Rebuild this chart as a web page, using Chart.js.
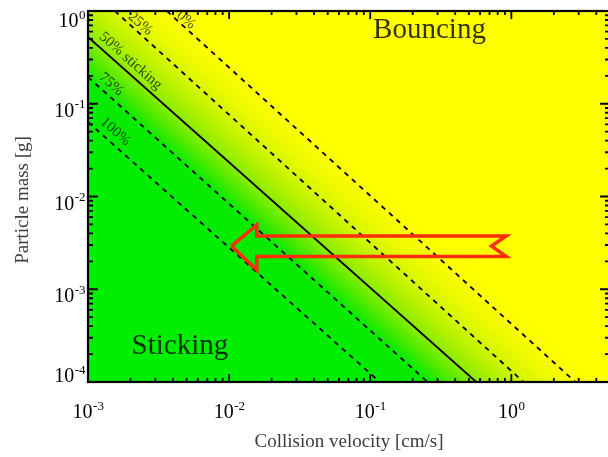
<!DOCTYPE html>
<html>
<head>
<meta charset="utf-8">
<script src="https://cdn.jsdelivr.net/npm/chart.js@4.4.1/dist/chart.umd.min.js"></script>
<style>
  html, body { margin: 0; padding: 0; background: #fff; overflow: hidden; width: 608px; height: 457px; }
  #wrap { width: 612px; height: 457px; }
</style>
</head>
<body>
<div id="wrap"><canvas id="stickChart" width="612" height="457"></canvas></div>
<script>
// contour lines of sticking probability (start / end points, velocity in cm/s, mass in g)
const lineLabels = ['0%', '25%', '50% sticking', '75%', '100%'];
const lineStartV = [3.62e-3, 1.55e-3, 1e-3, 1e-3, 1e-3];
const lineStartM = [1, 1, 0.525, 0.194, 0.0636];
const lineEndV = [2.84, 1.22, 0.564, 0.255, 0.117];
const lineEndM = [1e-4, 1e-4, 1e-4, 1e-4, 1e-4];
// where the contour labels sit
const labelV = [4.95e-3, 2.35e-3, 2.0e-3, 1.46e-3, 1.56e-3];
const labelM = [0.8, 0.73, 0.29, 0.162, 0.05];

// red arrow outline
const arrowV = [0.0104, 0.0157, 0.0157, 0.92, 0.723, 0.92, 0.0157, 0.0157, 0.0104];
const arrowM = [2.92e-3, 4.93e-3, 3.75e-3, 3.75e-3, 2.92e-3, 2.25e-3, 2.25e-3, 1.61e-3, 2.92e-3];

// region labels
const regionLabels = ['Bouncing', 'Sticking'];
const regionV = [0.263, 4.48e-3];
const regionM = [0.511, 2.0e-4];

// axes
const xTicks = [1e-3, 1e-2, 1e-1, 1e0];
const xTickExp = ['-3', '-2', '-1', '0'];
const yTicks = [1e0, 1e-1, 1e-2, 1e-3, 1e-4];
const yTickExp = ['0', '-1', '-2', '-3', '-4'];

const SERIF = '"Liberation Serif", "DejaVu Serif", serif';

const contourSets = lineLabels.map((lab, i) => ({
    label: lab,
    data: [{x: lineStartV[i], y: lineStartM[i]}, {x: lineEndV[i], y: lineEndM[i]}],
    borderColor: '#000',
    borderWidth: 1.8,
    borderDash: i === 2 ? [] : [5, 5],
    pointRadius: 0,
    fill: false,
    order: 2
}));

const arrowSet = {
    label: 'arrow',
    data: arrowV.map((v, i) => ({x: v, y: arrowM[i]})),
    borderColor: 'rgb(255,45,10)',
    borderWidth: 3.5,
    borderJoinStyle: 'miter',
    pointRadius: 0,
    fill: false,
    tension: 0,
    order: 1
};

function midPx(chart, i) {
    const {x, y} = chart.scales;
    return [
        (x.getPixelForValue(lineStartV[i]) + x.getPixelForValue(lineEndV[i])) / 2,
        (y.getPixelForValue(lineStartM[i]) + y.getPixelForValue(lineEndM[i])) / 2
    ];
}

function lineDir(chart) {
    const {x, y} = chart.scales;
    let dx = x.getPixelForValue(lineEndV[2]) - x.getPixelForValue(lineStartV[2]);
    let dy = y.getPixelForValue(lineEndM[2]) - y.getPixelForValue(lineStartM[2]);
    const L = Math.hypot(dx, dy);
    return [dx / L, dy / L];
}

// green -> yellow background, running across the contour lines
const bgPlugin = {
    id: 'bg',
    beforeDatasetsDraw(chart) {
        const {ctx, chartArea: a} = chart;
        const [dx, dy] = lineDir(chart);
        const nx = dy, ny = -dx;
        const m = midPx(chart, 2);
        const off = lineLabels.map((_, i) => {
            const p = midPx(chart, i);
            return (p[0] - m[0]) * nx + (p[1] - m[1]) * ny;
        });
        const lo = off[4] - 20, hi = off[0] + 20;
        const g = ctx.createLinearGradient(m[0] + nx * lo, m[1] + ny * lo, m[0] + nx * hi, m[1] + ny * hi);
        const t = s => (s - lo) / (hi - lo);
        g.addColorStop(0, 'rgb(0,238,0)');
        g.addColorStop(t(off[4]), 'rgb(0,236,0)');
        g.addColorStop(t(off[3]), 'rgb(10,234,0)');
        g.addColorStop(t((off[3] + off[2]) / 2), 'rgb(78,234,0)');
        g.addColorStop(t(off[2]), 'rgb(138,237,0)');
        g.addColorStop(t((off[2] + off[1]) / 2), 'rgb(180,241,0)');
        g.addColorStop(t(off[1]), 'rgb(214,246,0)');
        g.addColorStop(t((off[1] + off[0]) / 2), 'rgb(238,250,0)');
        g.addColorStop(t(off[0]), 'rgb(252,254,0)');
        g.addColorStop(1, 'rgb(255,255,0)');
        ctx.save();
        ctx.fillStyle = g;
        ctx.fillRect(a.left, a.top, a.right - a.left, a.bottom - a.top);
        ctx.restore();
    }
};

function drawPow(ctx, exp, xPos, base, align) {
    ctx.font = '20px ' + SERIF;
    const w1 = ctx.measureText('10').width;
    ctx.font = '13px ' + SERIF;
    const w2 = ctx.measureText(exp).width;
    let x0 = align === 'center' ? xPos - (w1 + w2) / 2 : xPos - (w1 + w2);
    ctx.textAlign = 'left';
    ctx.textBaseline = 'alphabetic';
    ctx.font = '20px ' + SERIF;
    ctx.fillText('10', x0, base);
    ctx.font = '13px ' + SERIF;
    ctx.fillText(exp, x0 + w1 + 0.5, base - 8.5);
}

const decoPlugin = {
    id: 'deco',
    afterDatasetsDraw(chart) {
        const {ctx, chartArea: a, scales: {x, y}} = chart;
        const [dx, dy] = lineDir(chart);
        const ang = Math.atan2(dy, dx);

        ctx.save();
        // contour labels
        ctx.fillStyle = 'rgba(20,45,0,0.85)';
        ctx.font = '15px ' + SERIF;
        ctx.textAlign = 'center';
        ctx.textBaseline = 'middle';
        lineLabels.forEach((lab, i) => {
            ctx.save();
            ctx.translate(x.getPixelForValue(labelV[i]), y.getPixelForValue(labelM[i]));
            ctx.rotate(ang);
            ctx.fillText(lab, 0, 0);
            ctx.restore();
        });

        // region labels
        ctx.fillStyle = 'rgba(0,0,0,0.8)';
        ctx.font = '29px ' + SERIF;
        ctx.textAlign = 'center';
        ctx.textBaseline = 'alphabetic';
        regionLabels.forEach((lab, i) => {
            ctx.fillText(lab, x.getPixelForValue(regionV[i]), y.getPixelForValue(regionM[i]));
        });

        // frame
        ctx.strokeStyle = '#000';
        ctx.lineWidth = 2.2;
        ctx.strokeRect(a.left, a.top, a.right - a.left, a.bottom - a.top);

        // inward ticks on all sides
        ctx.lineWidth = 1.8;
        ctx.beginPath();
        for (let e = -3; e <= 0; e++) {
            for (let k = 1; k <= 9; k++) {
                const v = k * Math.pow(10, e);
                if (v > x.max * 1.0001) break;
                const px = x.getPixelForValue(v);
                const len = k === 1 ? 8 : 4;
                ctx.moveTo(px, a.bottom); ctx.lineTo(px, a.bottom - len);
                ctx.moveTo(px, a.top); ctx.lineTo(px, a.top + len);
            }
        }
        for (let e = -4; e <= 0; e++) {
            for (let k = 1; k <= 9; k++) {
                const v = k * Math.pow(10, e);
                if (v > y.max * 1.0001) break;
                const py = y.getPixelForValue(v);
                const len = k === 1 ? 10 : 5;
                ctx.moveTo(a.left, py); ctx.lineTo(a.left + len, py);
                ctx.moveTo(a.right, py); ctx.lineTo(a.right - len, py);
            }
        }
        ctx.stroke();

        // tick labels
        ctx.fillStyle = '#000';
        xTicks.forEach((v, i) => drawPow(ctx, xTickExp[i], x.getPixelForValue(v), a.bottom + 36, 'center'));
        yTicks.forEach((v, i) => {
            const cy = Math.min(Math.max(y.getPixelForValue(v) + 6, a.top + 9), a.bottom - 7);
            drawPow(ctx, yTickExp[i], 85, cy + 7, 'right');
        });

        // axis titles
        ctx.fillStyle = '#3c3c3c';
        ctx.font = '19px ' + SERIF;
        ctx.textAlign = 'center';
        ctx.textBaseline = 'alphabetic';
        ctx.fillText('Collision velocity [cm/s]', 349, 447);
        ctx.save();
        ctx.translate(28, 200);
        ctx.rotate(-Math.PI / 2);
        ctx.fillText('Particle mass [g]', 0, 0);
        ctx.restore();
        ctx.restore();
    }
};

new Chart(document.getElementById('stickChart'), {
    type: 'line',
    data: { datasets: [arrowSet, ...contourSets] },
    options: {
        responsive: false,
        animation: false,
        devicePixelRatio: 1,
        layout: { padding: { left: 88, top: 11, right: 2, bottom: 75 } },
        scales: {
            x: { type: 'logarithmic', min: 1e-3, max: 5, display: false },
            y: { type: 'logarithmic', min: 1e-4, max: 1, display: false }
        },
        plugins: { legend: { display: false }, tooltip: { enabled: false } }
    },
    plugins: [bgPlugin, decoPlugin]
});
</script>
</body>
</html>
